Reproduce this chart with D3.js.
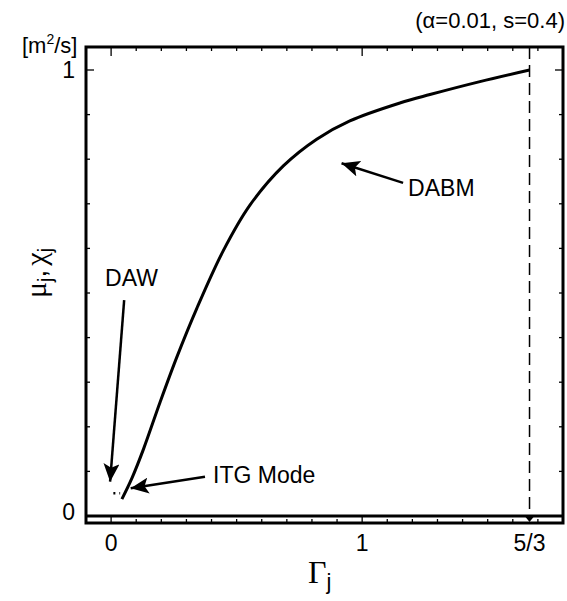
<!DOCTYPE html>
<html>
<head>
<meta charset="utf-8">
<script src="https://cdn.jsdelivr.net/npm/d3@7"></script>
<style>
  body { margin: 0; background: #fff; }
  text { font-family: "Liberation Sans", Arial, sans-serif; fill: #000; }
</style>
</head>
<body>
<div id="chart"></div>
<script>
// curve (Gamma_j, mu_j/chi_j normalised)
var gammaVals = [0.043, 0.083, 0.129, 0.195, 0.261, 0.341, 0.447, 0.553, 0.686, 0.819, 0.951, 1.150, 1.270, 1.469, 1.667];
var muVals    = [0.038, 0.085, 0.150, 0.255, 0.355, 0.465, 0.595, 0.697, 0.785, 0.845, 0.886, 0.926, 0.945, 0.974, 1.0];

// tiny DAW segment near the origin
var dawX = [0.009, 0.036];
var dawY = [0.051, 0.051];

var xTickVals = [0, 1, 5/3];
var xTickText = ["0", "1", "5/3"];
var yTickVals = [0, 1];
var yTickText = ["0", "1"];

// annotations: [label, textX, textY, fromX, fromY, toX, toY]
var notes = [
  ["DAW", -0.024, 0.516, 0.052, 0.484, -0.004, 0.077],
  ["ITG Mode", 0.406, 0.074, 0.374, 0.088, 0.078, 0.062],
  ["DABM", 1.183, 0.717, 1.163, 0.747, 0.918, 0.791]
];

var width = 567, height = 601;

var x = d3.scaleLinear().domain([-0.1, 1.8]).range([86, 563]);
var y = d3.scaleLinear().domain([0, 1]).range([516, 70]);
var frameTop = y(1.0516), frameBot = 523;

var svg = d3.select("#chart").append("svg")
  .attr("width", width)
  .attr("height", height);

// ticks (every 0.1)
var xMinor = d3.range(-0.1, 1.8001, 0.1).filter(function(v) { return v > -0.05 && v < 1.78; });
var yMinor = d3.range(0, 1.0001, 0.1);

var ticks = svg.append("g").attr("stroke", "#000").attr("stroke-width", 1.3);
xMinor.forEach(function(v) {
  var major = Math.abs(v) < 1e-6 || Math.abs(v - 1) < 1e-6;
  ticks.append("line")
    .attr("x1", x(v)).attr("x2", x(v))
    .attr("y1", frameTop).attr("y2", frameTop + (major ? 9 : 4));
  ticks.append("line")
    .attr("x1", x(v)).attr("x2", x(v))
    .attr("y1", frameBot).attr("y2", major ? y(0) : frameBot - 4);
});
yMinor.forEach(function(v) {
  var major = Math.abs(v) < 1e-6 || Math.abs(v - 1) < 1e-6;
  ticks.append("line")
    .attr("x1", x(-0.1)).attr("x2", x(-0.1) + (major ? 8 : 4))
    .attr("y1", y(v)).attr("y2", y(v));
  ticks.append("line")
    .attr("x1", x(1.8)).attr("x2", x(1.8) - (major ? 8 : 4))
    .attr("y1", y(v)).attr("y2", y(v));
});

// frame
svg.append("rect")
  .attr("x", x(-0.1)).attr("y", frameTop)
  .attr("width", x(1.8) - x(-0.1)).attr("height", frameBot - frameTop)
  .attr("fill", "none").attr("stroke", "#000").attr("stroke-width", 3);

// zero line
svg.append("line")
  .attr("x1", x(-0.1)).attr("x2", x(1.8))
  .attr("y1", y(0)).attr("y2", y(0))
  .attr("stroke", "#000").attr("stroke-width", 3);

// dashed line at 5/3
svg.append("line")
  .attr("x1", x(5/3)).attr("x2", x(5/3))
  .attr("y1", frameTop).attr("y2", y(0))
  .attr("stroke", "#000").attr("stroke-width", 1.5)
  .attr("stroke-dasharray", "12,6");
svg.append("path")
  .attr("d", "M" + (x(5/3) - 4) + "," + (y(0) + 1) + "L" + (x(5/3) + 4) + "," + (y(0) + 1) + "L" + x(5/3) + "," + (y(0) + 6) + "Z")
  .attr("fill", "#000");

// main curve
var line = d3.line()
  .x(function(d) { return x(d[0]); })
  .y(function(d) { return y(d[1]); })
  .curve(d3.curveCatmullRom);

svg.append("path")
  .datum(d3.zip(gammaVals, muVals))
  .attr("d", line)
  .attr("fill", "none")
  .attr("stroke", "#000")
  .attr("stroke-width", 3);

svg.append("path")
  .datum(d3.zip(dawX, dawY))
  .attr("d", d3.line().x(function(d) { return x(d[0]); }).y(function(d) { return y(d[1]); }))
  .attr("fill", "none")
  .attr("stroke", "#000")
  .attr("stroke-width", 2.5)
  .attr("stroke-dasharray", "2,4");

// arrows
svg.append("defs").append("marker")
  .attr("id", "head")
  .attr("viewBox", "0 0 18 16")
  .attr("refX", 18).attr("refY", 8)
  .attr("markerWidth", 18).attr("markerHeight", 16)
  .attr("markerUnits", "userSpaceOnUse")
  .attr("orient", "auto")
  .append("path")
  .attr("d", "M0,0L18,8L0,16L4,8Z")
  .attr("fill", "#000");

notes.forEach(function(n) {
  svg.append("line")
    .attr("x1", x(n[3])).attr("y1", y(n[4]))
    .attr("x2", x(n[5])).attr("y2", y(n[6]))
    .attr("stroke", "#000").attr("stroke-width", 2.5)
    .attr("marker-end", "url(#head)");
  svg.append("text")
    .attr("x", x(n[1])).attr("y", y(n[2]))
    .attr("font-size", 23)
    .text(n[0]);
});

// tick labels
svg.selectAll(".xlab").data(xTickVals).enter().append("text")
  .attr("class", "xlab")
  .attr("x", function(d) { return x(d); })
  .attr("y", 551)
  .attr("text-anchor", "middle")
  .attr("font-size", 23)
  .text(function(d, i) { return xTickText[i]; });

svg.selectAll(".ylab").data(yTickVals).enter().append("text")
  .attr("class", "ylab")
  .attr("x", 75)
  .attr("y", function(d) { return y(d) + (d === 0 ? 4 : 8); })
  .attr("text-anchor", "end")
  .attr("font-size", 23)
  .text(function(d, i) { return yTickText[i]; });

// units and parameters
var unit = svg.append("text").attr("x", 22).attr("y", 53).attr("font-size", 22);
unit.append("tspan").text("[m");
unit.append("tspan").attr("dy", -9).attr("font-size", 14).text("2");
unit.append("tspan").attr("dy", 9).text("/s]");

svg.append("text")
  .attr("x", 565).attr("y", 28)
  .attr("text-anchor", "end")
  .attr("font-size", 22)
  .text("(\u03b1=0.01, s=0.4)");

// axis titles
var xt = svg.append("text").attr("x", 308).attr("y", 583);
xt.append("tspan").attr("font-family", "Liberation Serif, serif").attr("font-size", 32).text("\u0393");
xt.append("tspan").attr("dy", 6).attr("font-size", 22).text("j");

var yt = svg.append("text")
  .attr("transform", "translate(46,298) rotate(-90)");
yt.append("tspan").attr("font-family", "Liberation Serif, serif").attr("font-size", 30).text("\u03bc");
yt.append("tspan").attr("dy", 6).attr("font-size", 20).text("j");
yt.append("tspan").attr("dy", -6).attr("font-size", 28).text(",");
yt.append("tspan").attr("dx", 4).attr("font-family", "Liberation Serif, serif").attr("font-size", 30).text("\u03c7");
yt.append("tspan").attr("dy", 6).attr("font-size", 20).text("j");
</script>
</body>
</html>
